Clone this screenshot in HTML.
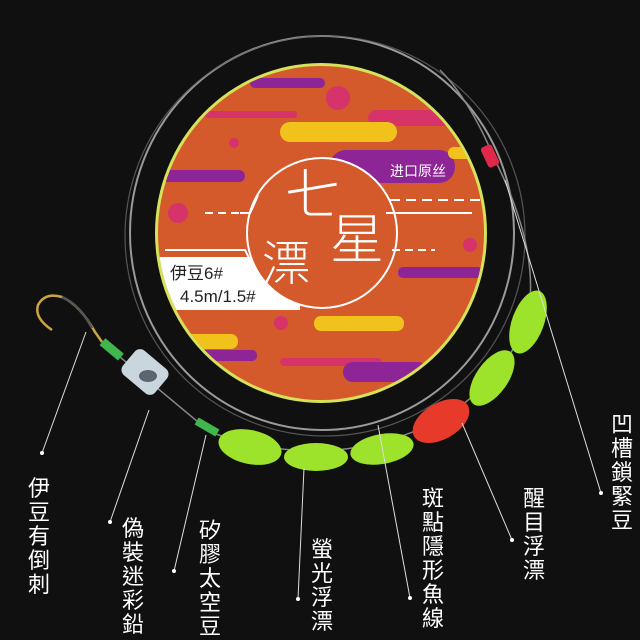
<!DOCTYPE html>
<html><head><meta charset="utf-8"><style>
html,body{margin:0;padding:0;background:#0f0f0f;}
svg{display:block}
text{font-family:"Liberation Sans","Noto Sans CJK TC",sans-serif;}
</style></head><body>
<svg width="640" height="640" viewBox="0 0 640 640" xmlns="http://www.w3.org/2000/svg">
<rect width="640" height="640" fill="#101010"/>
<!-- outer line rings -->
<ellipse cx="322" cy="233" rx="192" ry="197" fill="none" stroke="#9a9a9a" stroke-width="2"/>
<ellipse cx="325" cy="236" rx="200" ry="200" fill="none" stroke="#666" stroke-width="1.2" opacity="0.8"/>
<!-- spool -->
<defs><clipPath id="c"><ellipse cx="321" cy="233" rx="163" ry="167"/></clipPath></defs>
<ellipse cx="321" cy="233" rx="166" ry="170" fill="#d5e25a"/>
<ellipse cx="321" cy="233" rx="163" ry="167" fill="#d4592b"/>
<g clip-path="url(#c)">
<rect x="250" y="78" width="75" height="10" rx="5" fill="#8d2596"/>
<circle cx="338" cy="98" r="12" fill="#d7336b"/>
<rect x="205" y="111" width="92" height="7" rx="3" fill="#d7336b"/>
<rect x="368" y="110" width="110" height="16" rx="8" fill="#d7336b"/>
<rect x="280" y="122" width="117" height="20" rx="10" fill="#f1c21b"/>
<circle cx="234" cy="143" r="5" fill="#d7336b"/>
<rect x="330" y="150" width="125" height="33" rx="16" fill="#8d2596"/>
<rect x="448" y="147" width="30" height="12" rx="6" fill="#f1c21b"/>
<rect x="150" y="170" width="95" height="12" rx="6" fill="#8d2596"/>
<circle cx="178" cy="213" r="10" fill="#d7336b"/>
<circle cx="470" cy="245" r="7" fill="#d7336b"/>
<rect x="398" y="267" width="85" height="11" rx="5" fill="#8d2596"/>
<polygon points="150,257 300,257 300,310 150,310" fill="#fff"/>
<circle cx="281" cy="323" r="7" fill="#d7336b"/>
<rect x="314" y="316" width="90" height="15" rx="7" fill="#f1c21b"/>
<rect x="150" y="334" width="88" height="15" rx="7" fill="#f1c21b"/>
<rect x="160" y="350" width="97" height="11" rx="5" fill="#8d2596"/>
<rect x="280" y="358" width="102" height="8" rx="4" fill="#d7336b"/>
<rect x="343" y="362" width="85" height="20" rx="10" fill="#8d2596"/>
</g>
<!-- center circle -->
<circle cx="322" cy="233" r="75" fill="#d4592b" stroke="#fff" stroke-width="2"/>
<g stroke="#fff" stroke-width="2" fill="none">
<path d="M205 213 H240" stroke-dasharray="8 5"/>
<path d="M240 213 H250 Q254 205 258 195"/>
<path d="M165 250 H245 Q250 260 255 270" />
<path d="M390 200 H480" stroke-dasharray="10 6"/>
<path d="M386 213 H472"/>
<path d="M392 250 H435" stroke-dasharray="8 5"/>
</g>
<text x="390" y="176" font-size="14" fill="#fff">进口原丝</text>
<text x="285" y="215" font-size="56" fill="#fff" font-weight="300">七</text>
<text x="330" y="258" font-size="54" fill="#fff" font-weight="300">星</text>
<text x="262" y="280" font-size="48" fill="#fff" font-weight="300">漂</text>
<text x="170" y="279" font-size="17" fill="#222">伊豆6#</text>
<text x="180" y="302" font-size="17" fill="#222">4.5m/1.5#</text>
<!-- fishing line -->
<path d="M102 342 L210 432 Q330 475 440 420 Q520 370 530 300 Q535 240 495 160 Q470 100 440 70" fill="none" stroke="#888" stroke-width="1.5"/>
<!-- red clip -->
<rect x="484" y="145" width="12" height="22" rx="3" fill="#e0284a" transform="rotate(-25 490 156)"/>
<!-- hook -->
<path d="M52 330 Q34 318 38 305 Q45 292 62 297 Q80 305 95 332 L102 342" fill="none" stroke="#c9a640" stroke-width="2.5"/>
<path d="M62 297 Q80 305 92 328" fill="none" stroke="#555" stroke-width="2.5"/>
<!-- tubes -->
<rect x="100" y="345" width="24" height="9" fill="#3fb74d" transform="rotate(40 112 349)"/>
<rect x="195" y="423" width="24" height="8" fill="#3fb74d" transform="rotate(30 207 427)"/>
<!-- sinker -->
<rect x="124" y="356" width="42" height="32" rx="7" fill="#c9d6dd" transform="rotate(40 145 372)"/>
<ellipse cx="148" cy="376" rx="9" ry="6" fill="#5b6570"/>
<!-- beads -->
<g fill="#9de22b">
<ellipse cx="250" cy="447" rx="32" ry="17" transform="rotate(12 250 447)"/>
<ellipse cx="316" cy="457" rx="32" ry="14"/>
<ellipse cx="382" cy="449" rx="32" ry="15" transform="rotate(-10 382 449)"/>
<ellipse cx="492" cy="378" rx="32" ry="16" transform="rotate(-55 492 378)"/>
<ellipse cx="528" cy="322" rx="33" ry="16" transform="rotate(-70 528 322)"/>
</g>
<ellipse cx="441" cy="421" rx="31" ry="18" fill="#e83a2a" transform="rotate(-30 441 421)"/>
<!-- leader lines -->
<g stroke="#ddd" stroke-width="1">
<line x1="86" y1="332" x2="42" y2="453"/>
<line x1="149" y1="410" x2="110" y2="522"/>
<line x1="206" y1="435" x2="174" y2="571"/>
<line x1="304" y1="468" x2="298" y2="599"/>
<line x1="378" y1="425" x2="410" y2="598"/>
<line x1="462" y1="423" x2="512" y2="540"/>
<line x1="505" y1="180" x2="601" y2="493"/>
</g>
<g fill="#fff">
<circle cx="42" cy="453" r="2"/><circle cx="110" cy="522" r="2"/><circle cx="174" cy="571" r="2"/>
<circle cx="298" cy="599" r="2"/><circle cx="410" cy="598" r="2"/><circle cx="512" cy="540" r="2"/><circle cx="601" cy="493" r="2"/>
</g>
<!-- labels -->
<g font-size="22" fill="#fff" text-anchor="middle">
<text x="39" y="496">伊</text><text x="39" y="520">豆</text><text x="39" y="544">有</text><text x="39" y="568">倒</text><text x="39" y="592">刺</text>
<text x="133" y="536">偽</text><text x="133" y="560">裝</text><text x="133" y="584">迷</text><text x="133" y="608">彩</text><text x="133" y="632">鉛</text>
<text x="210" y="538">矽</text><text x="210" y="562">膠</text><text x="210" y="586">太</text><text x="210" y="610">空</text><text x="210" y="634">豆</text>
<text x="322" y="557">螢</text><text x="322" y="581">光</text><text x="322" y="605">浮</text><text x="322" y="629">漂</text>
<text x="433" y="506">斑</text><text x="433" y="530">點</text><text x="433" y="554">隱</text><text x="433" y="578">形</text><text x="433" y="602">魚</text><text x="433" y="626">線</text>
<text x="534" y="506">醒</text><text x="534" y="530">目</text><text x="534" y="554">浮</text><text x="534" y="578">漂</text>
<text x="622" y="432">凹</text><text x="622" y="456">槽</text><text x="622" y="480">鎖</text><text x="622" y="504">緊</text><text x="622" y="528">豆</text>
</g>
</svg>
</body></html>
